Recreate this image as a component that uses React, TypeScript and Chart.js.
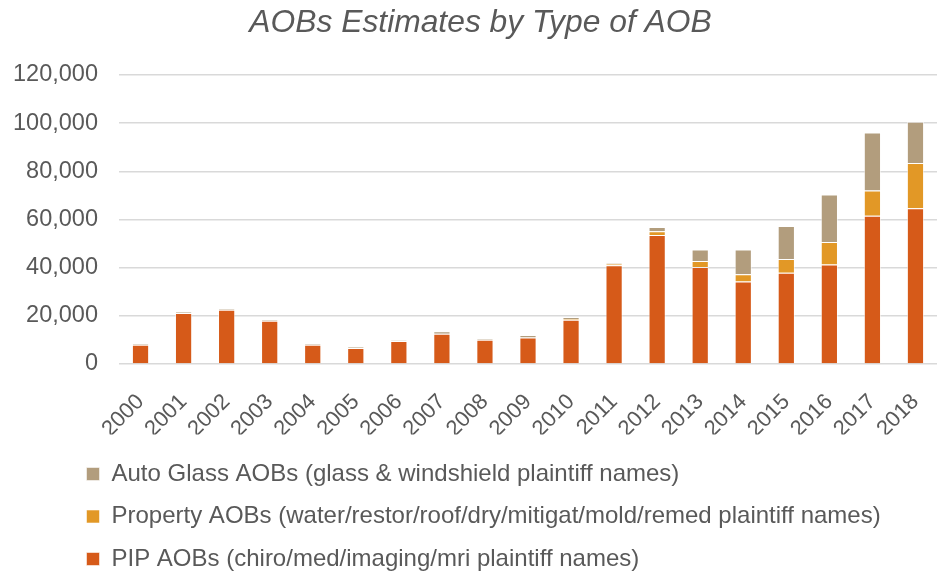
import React, { useEffect, useRef } from 'react';
import { Chart, registerables } from 'chart.js';

Chart.register(...registerables);

const years = ['2000', '2001', '2002', '2003', '2004', '2005', '2006', '2007', '2008', '2009', '2010', '2011', '2012', '2013', '2014', '2015', '2016', '2017', '2018'];
const pipValues = [8000, 21200, 22500, 18000, 8000, 6600, 9500, 12600, 10100, 11000, 18400, 41000, 53600, 40300, 34300, 37900, 41300, 61500, 64700];
const propertyValues = [0, 0, 0, 0, 0, 0, 0, 0, 0, 0, 300, 700, 1500, 2500, 3000, 5700, 9300, 10500, 18800];
const glassValues = [300, 400, 400, 300, 400, 500, 400, 1000, 300, 1000, 800, 500, 1800, 4700, 10200, 13700, 19800, 24100, 17100];
const seriesNames = [
  'PIP AOBs (chiro/med/imaging/mri plaintiff names)',
  'Property AOBs (water/restor/roof/dry/mitigat/mold/remed plaintiff names)',
  'Auto Glass AOBs (glass & windshield plaintiff names)',
];
const yMin = 0;
const yMax = 120000;
const yStep = 20000;
const titleText = 'AOBs Estimates by Type of AOB';

const TEXT = '#595959';
const FONT = "'Liberation Sans', Arial, sans-serif";
const LEGEND_LEFT = 68;
const LEGEND_TOP = 443.5;
const TITLE_SHIFT = 12;

const blockPlacer = {
  id: 'blockPlacer',
  afterLayout(chart: any) {
    const lg = chart.legend;
    if (lg) {
      const dx = LEGEND_LEFT - lg.left;
      const dy = LEGEND_TOP - lg.top;
      lg.left += dx;
      lg.right += dx;
      lg.top += dy;
      lg.bottom += dy;
    }
    const tb = chart.titleBlock;
    if (tb) {
      tb.left += TITLE_SHIFT;
      tb.right += TITLE_SHIFT;
    }
  },
};

export default function App() {
  const ref = useRef<HTMLCanvasElement | null>(null);

  useEffect(() => {
    if (!ref.current) return;
    const border = 'rgba(255,255,255,0.55)';
    const chart = new Chart(ref.current, {
      type: 'bar',
      data: {
        labels: years,
        datasets: [
          { label: seriesNames[0], data: pipValues, backgroundColor: '#D65A19', borderColor: border, borderWidth: 1 },
          { label: seriesNames[1], data: propertyValues, backgroundColor: '#E29826', borderColor: border, borderWidth: 1 },
          { label: seriesNames[2], data: glassValues, backgroundColor: '#B29D7D', borderColor: border, borderWidth: 1 },
        ],
      },
      options: {
        animation: false,
        responsive: true,
        maintainAspectRatio: false,
        layout: { padding: { left: 0, right: 5, top: 0, bottom: 0 } },
        datasets: { bar: { categoryPercentage: 1, barPercentage: 0.4 } },
        scales: {
          x: {
            stacked: true,
            grid: { display: false },
            border: { display: false },
            ticks: {
              color: TEXT,
              font: { family: FONT, size: 22 },
              maxRotation: 45,
              minRotation: 45,
              autoSkip: false,
              padding: 17,
            },
            afterFit: (s: any) => {
              s.height = 70.5;
              s.paddingLeft = 0;
              s.paddingRight = 0;
            },
          },
          y: {
            stacked: true,
            min: yMin,
            max: yMax,
            grid: { color: '#D9D9D9', lineWidth: 1.5, drawTicks: false },
            border: { display: false },
            ticks: {
              stepSize: yStep,
              color: TEXT,
              font: { family: FONT, size: 23.5 },
              padding: 21,
            },
            afterFit: (s: any) => {
              s.width = 119;
              s.paddingTop = 0;
              s.paddingBottom = 0;
            },
          },
        },
        plugins: {
          title: {
            display: true,
            text: titleText,
            color: TEXT,
            font: { family: FONT, size: 31.8, style: 'italic', weight: 'normal' },
            padding: { top: 4, bottom: 32.8 },
          },
          legend: {
            position: 'bottom',
            align: 'start',
            reverse: true,
            labels: {
              color: TEXT,
              font: { family: FONT, size: 24 },
              boxWidth: 13,
              boxHeight: 13,
              padding: 18.5,
            },
          },
          tooltip: { enabled: false },
        },
      },
      plugins: [blockPlacer],
    } as any);
    return () => chart.destroy();
  }, []);

  return (
    <div style={{ position: 'absolute', left: 0, top: 0, width: 942, height: 572 }}>
      <canvas ref={ref} />
    </div>
  );
}
